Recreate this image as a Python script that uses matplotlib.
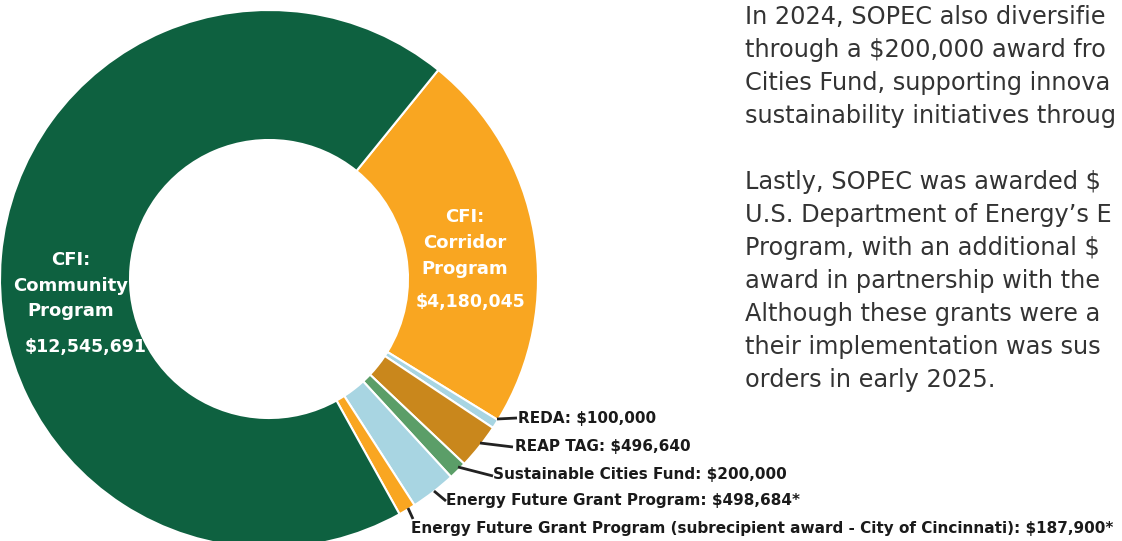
import matplotlib.pyplot as plt

W, H = 1122, 541

programs = ["CFI: Community Program", "CFI: Corridor Program", "REDA", "REAP TAG",
            "Sustainable Cities Fund", "Energy Future Grant Program",
            "Energy Future Grant Program (subrecipient award - City of Cincinnati)"]
amounts = [12545691, 4180045, 100000, 496640, 200000, 498684, 187900]
colors = ["#0e6140", "#f9a621", "#a8d5e2", "#c9871c", "#5b9e68", "#a8d5e2", "#f9a621"]

small_labels = ["REDA: $100,000", "REAP TAG: $496,640", "Sustainable Cities Fund: $200,000",
                "Energy Future Grant Program: $498,684*",
                "Energy Future Grant Program (subrecipient award - City of Cincinnati): $187,900*"]

# only the part of the paragraph that is visible in the frame
paragraph = ["In 2024, SOPEC also diversifie",
             "through a $200,000 award fro",
             "Cities Fund, supporting innova",
             "sustainability initiatives throug",
             "",
             "Lastly, SOPEC was awarded $",
             "U.S. Department of Energy\u2019s E",
             "Program, with an additional $",
             "award in partnership with the",
             "Although these grants were a",
             "their implementation was sus",
             "orders in early 2025."]

FONT = "DejaVu Sans"


def Y(y):
    return H - y


fig = plt.figure(figsize=(W / 100, H / 100), dpi=100)
ax = fig.add_axes([0, 0, 1, 1])

# order around the ring (clockwise from the top-right boundary)
order = [1, 2, 3, 4, 5, 6, 0]
vals = [amounts[i] for i in order]
cols = [colors[i] for i in order]
wedges, _ = ax.pie(vals, colors=cols, startangle=51, counterclock=False,
                   center=(269, Y(279)), radius=269,
                   wedgeprops=dict(width=130, edgecolor="white", linewidth=1.5))

# big labels inside the ring
big = dict(ha="center", va="baseline", color="white", fontsize=13, fontweight="bold", family=FONT)
for txt, x, y in [("CFI:", 71, 265), ("Community", 71, 291), ("Program", 71, 316),
                  ("CFI:", 465, 222), ("Corridor", 465, 248), ("Program", 465, 274)]:
    ax.text(x, Y(y), txt, **big)
ax.text(86, Y(352), "$12,545,691", **dict(big, fontsize=12.5))
ax.text(471, Y(307), "$4,180,045", **dict(big, fontsize=12.5))

# leader lines and labels for the small slices
line_start = [(497, 419), (480, 443), (458, 467), (434, 491), (408, 508)]
line_end = [(517, 418), (513, 447), (493, 476), (446, 501), (413, 519)]
text_pos = [(518, 419), (515, 447), (493, 474), (446, 501), (411, 528)]
for lab, s, e, t in zip(small_labels, line_start, line_end, text_pos):
    ax.plot([s[0], e[0]], [Y(s[1]), Y(e[1])], color="#222222", lw=2, solid_capstyle="butt")
    ax.text(t[0], Y(t[1]), lab, ha="left", va="center", color="#1a1a1a",
            fontsize=11, fontweight="bold", family=FONT)

# paragraph text on the right
for k, line in enumerate(paragraph):
    ax.text(745, Y(17 + 33 * k), line, ha="left", va="center", color="#333333",
            fontsize=17.3, family=FONT)

ax.set_xlim(0, W)
ax.set_ylim(0, H)
ax.set_aspect("equal")
ax.axis("off")
fig.savefig("out.png", dpi=100, facecolor="white")
